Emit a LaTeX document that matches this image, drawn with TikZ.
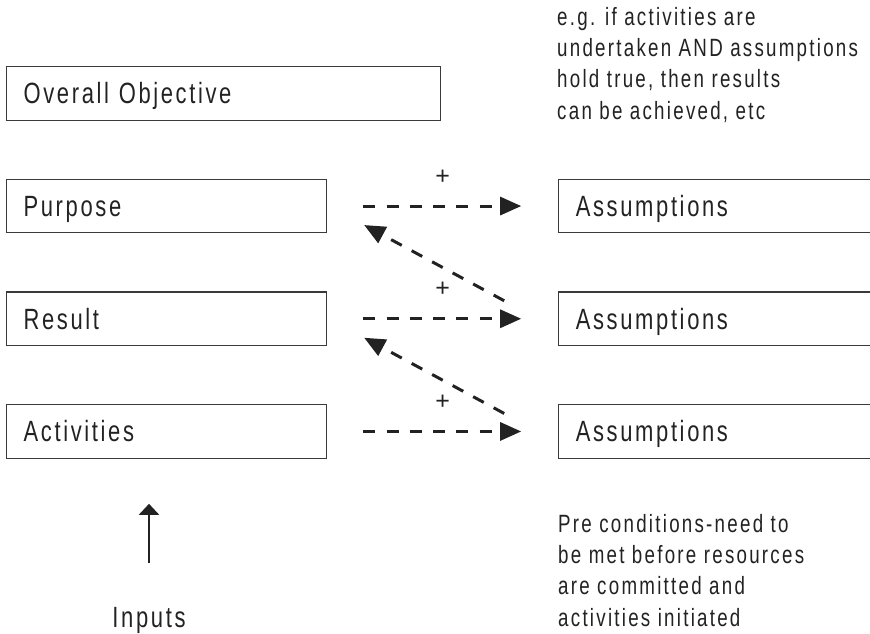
\documentclass[tikz,border=0pt]{standalone}
\usepackage{fontspec}
\newfontfamily\labelfont[FakeStretch=0.75,LetterSpace=9]{Liberation Sans}
\newfontfamily\plusfont{Liberation Sans}
\newcommand{\boxtext}{\labelfont\fontsize{29.3pt}{35pt}\selectfont}
\newcommand{\notetext}{\labelfont\fontsize{25pt}{31.3pt}\selectfont}
\usetikzlibrary{%
    arrows.meta,
    calc,
    positioning
}
\definecolor{inkgray}{HTML}{222222}
\definecolor{framegray}{HTML}{3A3A3A}

\begin{document}
\begin{tikzpicture}[x=1pt, y=-1pt,
    frame/.style={draw=framegray, line width=1.2pt, minimum height=53.5pt,
                  inner xsep=17pt, inner ysep=0pt, align=left,
                  text height=21pt, text depth=0pt, font=\boxtext,
                  text=inkgray},
    note/.style={anchor=north west, inner sep=0pt, align=left,
                 font=\notetext, text=inkgray},
    dasharrow/.style={draw=inkgray, line width=3pt,
                      dash pattern=on 12pt off 11.3pt,
                      -{Triangle[length=21pt, width=18pt]}},
    plus/.style={font=\plusfont\fontsize{25pt}{30pt}\selectfont,
                 text=inkgray, inner sep=0pt}
    ]
    \useasboundingbox (0,0) rectangle (870,633);
    \clip (0,0) rectangle (870,633);

    % logframe column
    \node[frame, text width=400pt, anchor=north west] (overall) at (6,66) {Overall Objective};
    \node[frame, text width=286pt, below=58pt of overall.south west, anchor=north west] (purpose) {Purpose};
    \node[frame, text width=286pt, below=58pt of purpose.south west, anchor=north west] (result) {Result};
    \node[frame, text width=286pt, below=58pt of result.south west, anchor=north west] (activities) {Activities};

    % assumptions column, cut by the right edge
    \node[frame, text width=400pt, right=231pt of purpose] (assumpP) {Assumptions};
    \node[frame, text width=400pt, right=231pt of result] (assumpR) {Assumptions};
    \node[frame, text width=400pt, right=231pt of activities] (assumpA) {Assumptions};

    \foreach \Source/\Target in {%
        purpose/assumpP,
        result/assumpR,
        activities/assumpA%
        }
        \draw[dasharrow, shorten <=36pt, shorten >=37pt] (\Source) --
            node[plus, midway, yshift=29pt] (\Source-plus) {+} (\Target);

    \foreach \Lower/\Upper in {assumpR/purpose, assumpA/result} {
        \coordinate (\Lower-from) at ($(\Lower.west)+(-54,-18)$);
        \coordinate (\Upper-to) at ($(\Upper.east)+(37,19)$);
        \draw[dasharrow] (\Lower-from) -- (\Upper-to);
    }

    % inputs
    \node[font=\boxtext, text=inkgray, anchor=base, inner sep=0pt,
          text height=20pt] (inputs) at (149,627) {Inputs};
    \draw[draw=inkgray, line width=2pt, -{Triangle[length=11pt, width=20pt]},
          shorten <=44pt, shorten >=45pt]
        (inputs.north) -- (inputs.north |- activities.south);

    % notes
    \node[note] (ifnote) at (557,7) {e.g. if activities are\\undertaken AND assumptions\\hold true, then results\\can be achieved, etc};
    \node[note] (prenote) at (558,514) {Pre conditions-need to\\be met before resources\\are committed and\\activities initiated};
\end{tikzpicture}
\end{document}
